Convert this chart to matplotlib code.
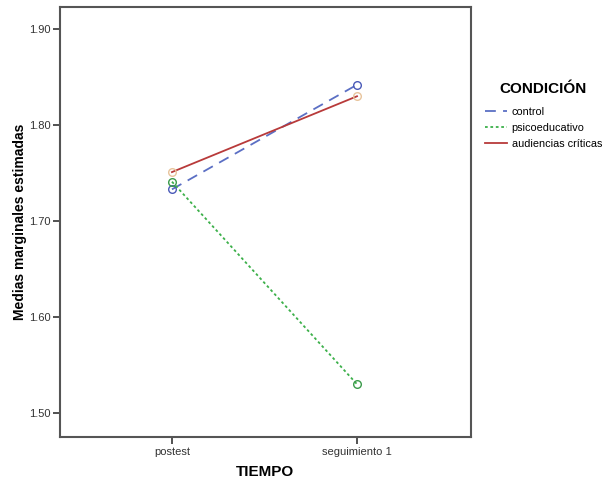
import matplotlib
matplotlib.use("Agg")
import matplotlib.pyplot as plt

plt.rcParams['font.family'] = ['Liberation Sans', 'DejaVu Sans']

tiempo = ["postest", "seguimiento 1"]
grupos = ["control", "psicoeducativo", "audiencias críticas"]
medias = {
    "control": [1.733, 1.842],
    "psicoeducativo": [1.741, 1.530],
    "audiencias críticas": [1.751, 1.830],
}
yticks = [1.50, 1.60, 1.70, 1.80, 1.90]

estilos = {
    "control": dict(color="#5b6fc4", linestyle=(0, (6, 4)), mec="#4a5ab8"),
    "psicoeducativo": dict(color="#3cb04a", linestyle=(0, (1.5, 1.5)), mec="#3a9a4a"),
    "audiencias críticas": dict(color="#b83a3a", linestyle="-", mec="#e8c49c"),
}

fig = plt.figure(figsize=(6.05, 4.79), dpi=100)
ax = fig.add_axes([60/605, 1 - 437/479, 411/605, 430/479])

x = list(range(len(tiempo)))
for g in grupos:
    st = estilos[g]
    ax.plot(x, medias[g], color=st["color"], linestyle=st["linestyle"], lw=1.3,
            marker="o", ms=5.5, mfc="none", mec=st["mec"], mew=1.0, label=g)

ax.set_xlim(-0.605, 1.616)
ax.set_ylim(1.475, 1.923)
ax.set_xticks(x)
ax.set_xticklabels(tiempo, fontsize=8, color="#333333")
ax.set_yticks(yticks)
ax.set_yticklabels([f"{v:.2f}" for v in yticks], fontsize=8, color="#333333")
ax.tick_params(direction="out", length=5, width=1.2, color="#333333", pad=2)
for s in ax.spines.values():
    s.set_color("#555555")
    s.set_linewidth(1.5)

ax.set_xlabel("TIEMPO", fontsize=11, fontweight="bold", labelpad=6)
ax.set_ylabel("Medias marginales estimadas", fontsize=10, fontweight="bold", labelpad=1)

leg = fig.legend(loc="upper left", bbox_to_anchor=(485/605, 1 - 82/479), frameon=False,
                 title="CONDICIÓN", fontsize=7.8, handlelength=2.0, handletextpad=0.45,
                 labelspacing=0.55, borderaxespad=0, borderpad=0)
leg.get_title().set_fontweight("bold")
leg.get_title().set_fontsize(11)
leg._legend_box.sep = 8
for h in leg.legend_handles:
    h.set_marker("")

fig.savefig("out.png", dpi=100)
